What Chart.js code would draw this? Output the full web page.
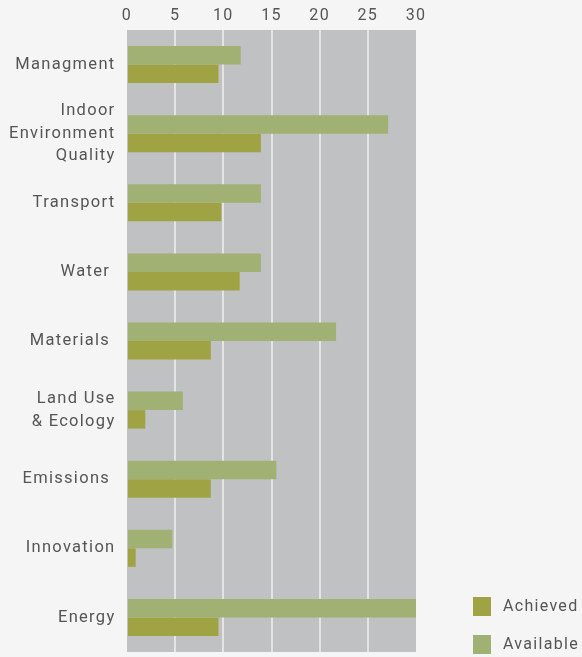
<!DOCTYPE html>
<html>
<head>
<meta charset="utf-8">
<script src="https://cdn.jsdelivr.net/npm/chart.js@4/dist/chart.umd.min.js"></script>
<style>
  html, body { margin: 0; padding: 0; background: #f5f5f5; }
  #wrap { width: 582px; height: 657px; position: relative; }
</style>
</head>
<body>
<div id="wrap"><canvas id="c"></canvas></div>
<script>
const categories = [
  'Managment',
  ['Indoor', 'Environment', 'Quality'],
  'Transport',
  'Water ',
  'Materials ',
  ['Land Use', '& Ecology'],
  'Emissions ',
  'Innovation',
  'Energy'
];
const available = [11.8, 27.1, 13.9, 13.9, 21.7, 5.8, 15.5, 4.7, 30];
const achieved  = [9.5, 13.9, 9.8, 11.7, 8.7, 1.9, 8.7, 0.9, 9.5];
const xTicks = [0, 5, 10, 15, 20, 25, 30];

const COL_AVAIL = '#a1b073';
const COL_ACH = '#a0a344';
const TXT = '#555555';
const FONT = 'Roboto';

const spacingPlugin = {
  id: 'spacing',
  beforeUpdate(chart) { chart.ctx.letterSpacing = '1.3px'; },
  beforeLayout(chart) { chart.ctx.letterSpacing = '1.3px'; },
  beforeDraw(chart) {
    const { ctx, chartArea: a } = chart;
    ctx.save();
    ctx.fillStyle = '#c0c1c3';
    ctx.fillRect(a.left, a.top, a.right - a.left, a.bottom - a.top);
    ctx.restore();
  },
  afterDraw(chart) {
    const ctx = chart.ctx;
    const items = [
      { label: 'Achieved', color: COL_ACH, y: 597 },
      { label: 'Available', color: COL_AVAIL, y: 635 }
    ];
    ctx.save();
    ctx.font = '16px ' + FONT;
    ctx.textBaseline = 'middle';
    ctx.textAlign = 'left';
    items.forEach(it => {
      ctx.fillStyle = it.color;
      ctx.fillRect(473, it.y, 18, 19);
      ctx.fillStyle = TXT;
      ctx.fillText(it.label, 503, it.y + 10);
    });
    ctx.restore();
  }
};

new Chart(document.getElementById('c'), {
  type: 'bar',
  data: {
    labels: categories,
    datasets: [
      { label: 'Available', data: available, backgroundColor: COL_AVAIL },
      { label: 'Achieved', data: achieved, backgroundColor: COL_ACH }
    ]
  },
  options: {
    indexAxis: 'y',
    responsive: true,
    maintainAspectRatio: false,
    animation: false,
    layout: { padding: { left: 0, right: 166, top: 0, bottom: 5 } },
    datasets: { bar: { categoryPercentage: 0.535, barPercentage: 1.0, borderWidth: 0 } },
    plugins: {
      legend: { display: false },
      tooltip: { enabled: false }
    },
    scales: {
      x: {
        position: 'top',
        min: 0, max: 30,
        afterBuildTicks(scale) { scale.ticks = xTicks.map(v => ({ value: v })); },
        afterFit(scale) {
          scale.height = 30;
          scale.paddingLeft = 0; scale.paddingRight = 0;
        },
        ticks: { color: TXT, font: { family: FONT, size: 16 }, padding: 4 },
        grid: {
          drawTicks: false,
          lineWidth: 2,
          color(ctx) {
            const v = ctx.tick && ctx.tick.value;
            return (v === 0 || v === 30) ? 'rgba(0,0,0,0)' : '#e4e4e4';
          }
        },
        border: { display: false }
      },
      y: {
        afterFit(scale) {
          scale.width = 127;
          scale.paddingTop = 0; scale.paddingBottom = 0;
        },
        ticks: { color: TXT, font: { family: FONT, size: 16.5, lineHeight: 1.37 }, padding: 11.5, autoSkip: false },
        grid: { display: false, drawTicks: false },
        border: { display: false }
      }
    }
  },
  plugins: [spacingPlugin]
});
</script>
</body>
</html>
